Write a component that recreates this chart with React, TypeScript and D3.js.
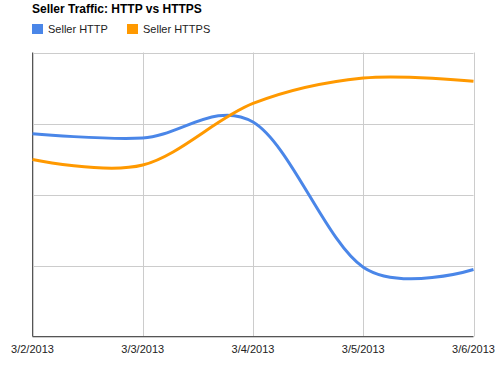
import React, { useEffect, useRef } from 'react'
import * as d3 from 'd3'

// chart data
const dates = ['2013-03-02', '2013-03-03', '2013-03-04', '2013-03-05', '2013-03-06']
const httpValues = [285.5, 279.6, 302.1, 97.6, 94.4]
const httpsValues = [249.3, 241.5, 328.2, 364.1, 359.6]
const seriesNames = ['Seller HTTP', 'Seller HTTPS']
const seriesColors = ['#4a86e8', '#ff9900']
const yTicks = [0, 100, 200, 300, 400]
const title = 'Seller Traffic: HTTP vs HTTPS'

const W = 500
const H = 368
const font = 'Arial, "Liberation Sans", sans-serif'

export default function App() {
  const ref = useRef<SVGSVGElement>(null)

  useEffect(() => {
    const svg = d3.select(ref.current)
    svg.selectAll('*').remove()

    const left = 32.5, right = 473.5, top = 52.5, bottom = 336.5
    const parse = d3.timeParse('%Y-%m-%d')
    const xs = dates.map(d => parse(d) as Date)

    const x = d3.scaleTime()
      .domain(d3.extent(xs) as [Date, Date])
      .range([left, right])
    const y = d3.scaleLinear()
      .domain([0, 400])
      .range([bottom, top])

    // gridlines
    svg.append('g')
      .selectAll('line.h')
      .data(yTicks)
      .join('line')
        .attr('x1', left).attr('x2', right)
        .attr('y1', d => Math.round(y(d)) + 0.5).attr('y2', d => Math.round(y(d)) + 0.5)
        .attr('stroke', '#cccccc')
    svg.append('g')
      .selectAll('line.v')
      .data(xs)
      .join('line')
        .attr('x1', d => Math.round(x(d)) + 0.5).attr('x2', d => Math.round(x(d)) + 0.5)
        .attr('y1', top).attr('y2', bottom)
        .attr('stroke', '#cccccc')

    // axis lines
    svg.append('line')
      .attr('x1', left).attr('x2', left).attr('y1', top).attr('y2', bottom)
      .attr('stroke', '#555555')
    svg.append('line')
      .attr('x1', left).attr('x2', right).attr('y1', bottom).attr('y2', bottom)
      .attr('stroke', '#555555')

    // x labels
    const fmt = d3.timeFormat('%-m/%-d/%Y')
    svg.append('g')
      .selectAll('text')
      .data(xs)
      .join('text')
        .attr('x', d => x(d))
        .attr('y', 353)
        .attr('text-anchor', 'middle')
        .attr('font-family', font)
        .attr('font-size', 11)
        .attr('fill', '#222222')
        .text(d => fmt(d))

    // lines
    const line = d3.line<number>()
      .x((_, i) => x(xs[i]))
      .y(d => y(d))
      .curve(d3.curveCardinal.tension(0))

    const series = [httpValues, httpsValues]
    series.forEach((vals, i) => {
      svg.append('path')
        .attr('d', line(vals))
        .attr('fill', 'none')
        .attr('stroke', seriesColors[i])
        .attr('stroke-width', 3)
        .attr('stroke-linejoin', 'round')
    })

    // title
    svg.append('text')
      .attr('x', 32)
      .attr('y', 13)
      .attr('font-family', font)
      .attr('font-size', 12)
      .attr('font-weight', 'bold')
      .attr('fill', '#000000')
      .text(title)

    // legend
    const legendX = [32, 127]
    seriesNames.forEach((name, i) => {
      svg.append('rect')
        .attr('x', legendX[i]).attr('y', 24)
        .attr('width', 11).attr('height', 10)
        .attr('fill', seriesColors[i])
      svg.append('text')
        .attr('x', legendX[i] + 16)
        .attr('y', 33)
        .attr('font-family', font)
        .attr('font-size', 11)
        .attr('fill', '#222222')
        .text(name)
    })
  }, [])

  return (
    <svg ref={ref} width={W} height={H}
      style={{ position: 'absolute', left: 0, top: 0, background: '#fff' }} />
  )
}
